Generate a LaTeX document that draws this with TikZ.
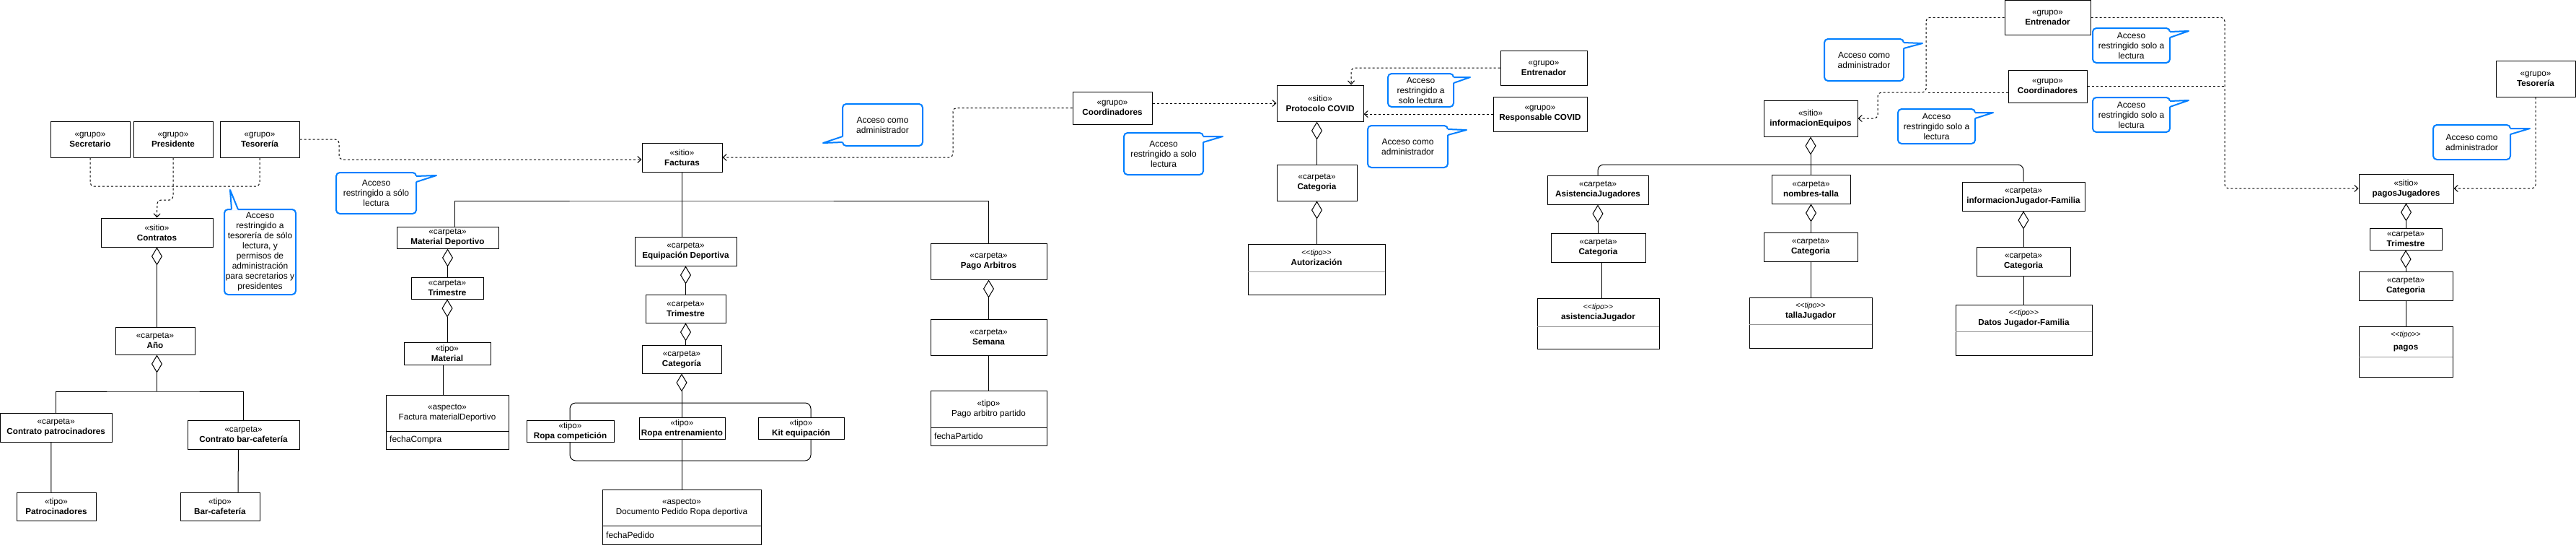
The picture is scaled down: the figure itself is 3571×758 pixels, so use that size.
\documentclass[tikz,border=0pt]{standalone}
\usepackage{fontspec}
\setmainfont{Liberation Sans}
\usetikzlibrary{arrows.meta}
\definecolor{cblue}{RGB}{0,127,255}
\definecolor{sepgray}{RGB}{150,150,150}
\newcommand\nfont{\fontsize{11.7}{14}\selectfont}
\newcommand\cfont{\fontsize{12}{14}\selectfont}
\newcommand\stereo[1]{«#1»}
\newcommand\tipoit{{\fontsize{10.5}{12}\selectfont <\kern0pt<\textit{tipo}>\kern0pt>}}
\tikzset{
 bx/.style={draw, line width=1pt, fill=white, inner sep=1pt, align=center, font=\nfont},
 tx/.style={inner sep=0pt, align=center, font=\nfont},
 co/.style={draw=cblue, line width=2pt, rounded corners=5pt, fill=white, inner sep=1pt, align=center, font=\cfont},
 dep/.style={line width=1pt, dash pattern=on 3pt off 3pt, rounded corners=5pt, -{Straight Barb[length=5pt,width=9pt,line width=1pt]}},
 depn/.style={line width=1pt, dash pattern=on 3pt off 3pt, rounded corners=5pt},
 agg/.style={line width=1pt, {Diamond[open,length=25pt,width=15pt,line width=1pt]}-},
 ln/.style={line width=1pt},
}
\newcommand\mkbox[6]{\node[bx, minimum width={#4-#2}, minimum height={#5-#3}] (#1) at ({(#2+#4)/2},{(#3+#5)/2}) {#6};}
\newcommand\mkcls[8]{%
 \node[bx, minimum width={#4-#2}, minimum height={#5-#3}] (#1) at ({(#2+#4)/2},{(#3+#5)/2}) {};
 \node[tx] (#1n) at ({(#2+#4)/2},{(#3+#6)/2}) {#8};
 \draw[#7, line width=1pt] (#2,#6) -- (#4,#6);}
\newcommand\mkattr[5]{\node[tx, anchor=west, font=\cfont] (#1) at ({#2+5},{(#3+#4)/2}) {#5};}
\newcommand\coTR[8]{%
 \node[co, minimum width={#4-#2}, minimum height={#5-#3}] (#1) at ({(#2+#4)/2},{(#3+#5)/2}) {#8};
 \fill[white] ({#4-1.5},{#3+5}) -- (#6,#7) -- ({#4-1.5},{#3+13}) -- cycle;
 \draw[cblue, line width=2pt, line join=round] (#4,{#3+5}) -- (#6,#7) -- (#4,{#3+13});}
\newcommand\coBL[8]{%
 \node[co, minimum width={#4-#2}, minimum height={#5-#3}] (#1) at ({(#2+#4)/2},{(#3+#5)/2}) {#8};
 \fill[white] ({#2+1.5},{#5-5}) -- (#6,#7) -- ({#2+1.5},{#5-13}) -- cycle;
 \draw[cblue, line width=2pt, line join=round] (#2,{#5-5}) -- (#6,#7) -- (#2,{#5-13});}
\begin{document}
\begin{tikzpicture}[x=1pt,y=-1pt]
\fill[white] (0,0) rectangle (3571,758);
\useasboundingbox (0,0) rectangle (3571,758);
% group frame behind the tipo nodes
\draw[ln, rounded corners=8pt] (790,558) rectangle (1124,638);
% ---------- left cluster
\mkbox{sec}{70}{168}{180}{218}{\stereo{grupo}\\\textbf{Secretario}}
\mkbox{pres}{185}{168}{295}{218}{\stereo{grupo}\\\textbf{Presidente}}
\mkbox{tes}{305}{168}{415}{218}{\stereo{grupo}\\\textbf{Tesorería}}
\mkbox{contr}{140}{302}{295}{342}{\stereo{sitio}\\\textbf{Contratos}}
\mkbox{ano}{160}{453}{270}{491}{\stereo{carpeta}\\\textbf{Año}}
\mkbox{cpat}{0.5}{572}{155}{612}{\stereo{carpeta}\\\textbf{Contrato patrocinadores}}
\mkbox{cbar}{260}{582}{415}{622}{\stereo{carpeta}\\\textbf{Contrato bar-cafetería}}
\mkbox{patro}{23}{682}{133}{721}{\stereo{tipo}\\\textbf{Patrocinadores}}
\mkbox{barc}{250}{682}{360}{721}{\stereo{tipo}\\\textbf{Bar-cafetería}}
% ---------- Facturas cluster
\mkbox{fact}{890}{198}{1001}{238}{\stereo{sitio}\\\textbf{Facturas}}
\mkbox{matdep}{550}{314}{691}{344}{\stereo{carpeta}\\\textbf{Material Deportivo}}
\mkbox{trimMD}{570}{384}{670}{414}{\stereo{carpeta}\\\textbf{Trimestre}}
\mkbox{material}{560}{474}{680}{505}{\stereo{tipo}\\\textbf{Material}}
\mkcls{facMD}{535}{547}{705}{622}{597}{black}{\stereo{aspecto}\\Factura materialDeportivo}
\mkattr{facMDa}{535}{597}{622}{fechaCompra}
\mkbox{equip}{880}{328}{1021}{368}{\stereo{carpeta}\\\textbf{Equipación Deportiva}}
\mkbox{trimED}{895}{408}{1006}{447}{\stereo{carpeta}\\\textbf{Trimestre}}
\mkbox{catED}{890}{478}{1000}{517}{\stereo{carpeta}\\\textbf{Categoría}}
\mkbox{ropaC}{730}{582}{851}{612}{\stereo{tipo}\\\textbf{Ropa competición}}
\mkbox{ropaE}{886}{578}{1005}{608}{\stereo{tipo}\\\textbf{Ropa entrenamiento}}
\mkbox{kit}{1051}{578}{1170}{608}{\stereo{tipo}\\\textbf{Kit equipación}}
\mkcls{doc}{835}{678}{1055}{754}{728}{black}{\stereo{aspecto}\\Documento Pedido Ropa deportiva}
\mkattr{doca}{835}{728}{754}{fechaPedido}
\mkbox{pagoArb}{1290}{337}{1451}{387}{\stereo{carpeta}\\\textbf{Pago Arbitros}}
\mkbox{semana}{1290}{442}{1451}{492}{\stereo{carpeta}\\\textbf{Semana}}
\mkcls{pagoPart}{1290}{541}{1451}{617}{592}{black}{\stereo{tipo}\\Pago arbitro partido}
\mkattr{pagoParta}{1290}{592}{617}{fechaPartido}
% ---------- Protocolo COVID cluster
\mkbox{coordA}{1487}{127}{1597}{172}{\stereo{grupo}\\\textbf{Coordinadores}}
\mkbox{prot}{1770}{118}{1890}{168}{\stereo{sitio}\\\textbf{Protocolo COVID}}
\mkbox{catCov}{1770}{228}{1881}{278}{\stereo{carpeta}\\\textbf{Categoria}}
\mkcls{aut}{1730}{338}{1920}{408}{376}{sepgray}{\tipoit\\\textbf{Autorización}}
\mkbox{entC}{2080}{70}{2200}{118}{\stereo{grupo}\\\textbf{Entrenador}}
\mkbox{respC}{2070}{134}{2200}{182}{\stereo{grupo}\\\textbf{Responsable COVID}}
% ---------- informacionEquipos cluster
\mkbox{entT}{2779}{0.5}{2898}{48}{\stereo{grupo}\\\textbf{Entrenador}}
\mkbox{coordB}{2784}{97}{2893}{142}{\stereo{grupo}\\\textbf{Coordinadores}}
\mkbox{infoEq}{2445}{139}{2575}{189}{\stereo{sitio}\\\textbf{informacionEquipos}}
\mkbox{aj}{2145}{243}{2285}{283}{\stereo{carpeta}\\\textbf{AsistenciaJugadores}}
\mkbox{nt}{2456}{242}{2565}{282}{\stereo{carpeta}\\\textbf{nombres-talla}}
\mkbox{ijf}{2720}{252}{2890}{292}{\stereo{carpeta}\\\textbf{informacionJugador-Familia}}
\mkbox{catAJ}{2150}{323}{2281}{363}{\stereo{carpeta}\\\textbf{Categoria}}
\mkbox{catNT}{2445}{322}{2575}{362}{\stereo{carpeta}\\\textbf{Categoria}}
\mkbox{catIJF}{2740}{342}{2870}{382}{\stereo{carpeta}\\\textbf{Categoria}}
\mkcls{asis}{2131}{413}{2300}{483}{452}{sepgray}{\tipoit\\\textbf{asistenciaJugador}}
\mkcls{talla}{2425}{412}{2595}{482}{449}{sepgray}{\tipoit\\\textbf{tallaJugador}}
\mkcls{datos}{2711}{422}{2900}{492}{459}{sepgray}{\tipoit\\\textbf{Datos Jugador-Familia}}
% ---------- pagosJugadores cluster
\mkbox{tesR}{3460}{84}{3570}{134}{\stereo{grupo}\\\textbf{Tesorería}}
\mkbox{pagosJ}{3270}{241}{3401}{281}{\stereo{sitio}\\\textbf{pagosJugadores}}
\mkbox{trimP}{3285}{316}{3385}{346}{\stereo{carpeta}\\\textbf{Trimestre}}
\mkbox{catP}{3270}{376}{3400}{416}{\stereo{carpeta}\\\textbf{Categoria}}
\mkcls{pagos}{3270}{452}{3400}{522}{494}{sepgray}{\tipoit\\[4pt]\textbf{pagos}}
% ---------- callouts
\node[co, minimum width=99, minimum height=118] (c1) at (360.5,349) {Acceso\\restringido a\\tesorería de sólo\\lectura, y\\permisos de\\administración\\para secretarios y\\presidentes};
\fill[white] (321,291.5) -- (319,263) -- (330,291.5) -- cycle;
\draw[cblue, line width=2pt, line join=round] (321,290) -- (319,263) -- (330,290);
\coTR{c2}{466}{239}{577}{296}{605}{243}{Acceso\\restringido a sólo\\lectura}
\coBL{c3}{1168}{144}{1279}{202}{1141}{198}{Acceso como\\administrador}
\coTR{c4}{1558}{184}{1668}{242}{1695}{189}{Acceso\\restringido a solo\\lectura}
\coTR{c5}{1924}{102}{2015}{148}{2038}{107}{Acceso\\restringido a\\solo lectura}
\coTR{c6}{1896}{174}{2007}{232}{2033}{180}{Acceso como\\administrador}
\coTR{c7}{2529}{54}{2639}{112}{2665}{60}{Acceso como\\administrador}
\coTR{c8}{2631}{151}{2738}{199}{2763}{156}{Acceso\\restringido solo a\\lectura}
\coTR{c9}{2901}{39}{3008}{87}{3034}{43}{Acceso\\restringido solo a\\lectura}
\coTR{c10}{2901}{135}{3008}{183}{3034}{139}{Acceso\\restringido solo a\\lectura}
\coTR{c11}{3373}{173}{3480}{221}{3507}{178}{Acceso como\\administrador}
% ---------- connectors: left
\draw[depn] (sec.south) -- (125,258) -- (360,258) -- (tes.south);
\draw[dep] (pres.south) -- (240,277) -- (218,277) -- (contr.north);
\draw[agg] (contr.south) -- (contr.south |- ano.north);
\coordinate (anoBus) at (217.5,542);
\draw[agg] (ano.south -| contr.south) -- (anoBus);
\draw[ln] (cpat.north) |- (anoBus) -| (cbar.north);
\draw[ln] ([xshift=-7pt]cpat.south) -- ([xshift=-7pt]patro.north);
\draw[ln] ([xshift=-7pt]cbar.south) -- ([xshift=25pt]barc.north);
% ---------- connectors: Facturas
\draw[dep] (tes.east) -- (470,193) -- (470,221) -- ([yshift=-3pt]fact.west);
\coordinate (busF) at (945.5,278);
\draw[ln] (fact.south) -- (fact.south |- equip.north);
\draw[ln] ([xshift=10pt]matdep.north) |- (busF) -| (pagoArb.north);
\draw[agg] (matdep.south) -- (matdep.south |- trimMD.north);
\draw[agg] (trimMD.south) -- (trimMD.south |- material.north);
\draw[ln] ([xshift=-6pt]material.south) -- ([xshift=-6pt]facMD.north);
\draw[agg] (equip.south) -- (equip.south |- trimED.north);
\draw[agg] (trimED.south) -- (trimED.south |- catED.north);
\draw[agg] (catED.south) -- (catED.south |- ropaE.north);
\draw[ln] (ropaE.south) -- (ropaE.south |- doc.north);
\draw[agg] (pagoArb.south) -- (semana.north);
\draw[ln] (semana.south) -- (pagoPart.north);
% ---------- connectors: Protocolo COVID
\draw[dep] (coordA.west) -- (1321,149.5) -- (1321,218) -- (fact.east);
\draw[dep] (coordA.east |- prot.west) -- (prot.west);
\draw[dep] (entC.west) -| ([xshift=43pt]prot.north);
\draw[dep] (respC.west) -- (respC.west -| prot.east);
\draw[agg] (catCov.north |- prot.south) -- (catCov.north);
\draw[agg] (catCov.south) -- (catCov.south |- aut.north);
% ---------- connectors: informacionEquipos
\draw[dep] (entT.west) -- (2670,24.25) -- (2670,128) -- (2603,128) -- (2603,164) -- (infoEq.east);
\draw[depn] ([yshift=-8.5pt]coordB.west) -- (2670,128);
\coordinate (busI) at (2510,228);
\draw[agg] (infoEq.south) -- (infoEq.south |- nt.north);
\draw[ln, rounded corners=8pt] (aj.north) |- (busI) -| (ijf.north);
\draw[agg] (aj.south) -- (aj.south |- catAJ.north);
\draw[ln] ([xshift=5pt]catAJ.south) -- ([xshift=5pt]catAJ.south |- asis.north);
\draw[agg] (nt.south) -- (nt.south |- catNT.north);
\draw[ln] (catNT.south) -- (catNT.south |- talla.north);
\draw[agg] (ijf.south) -- (ijf.south |- catIJF.north);
\draw[ln] (catIJF.south) -- (catIJF.south |- datos.north);
% ---------- connectors: pagosJugadores
\draw[dep] (entT.east) -- (3084,24.25) -- (3084,261) -- (pagosJ.west);
\draw[depn] (coordB.east) -- (3084,119.5);
\draw[dep] (tesR.south) -- (3515,261) -- (pagosJ.east);
\draw[agg] (pagosJ.south) -- (pagosJ.south |- trimP.north);
\draw[agg] (trimP.south) -- (trimP.south |- catP.north);
\draw[ln] (catP.south) -- (catP.south |- pagos.north);
\end{tikzpicture}
\end{document}
